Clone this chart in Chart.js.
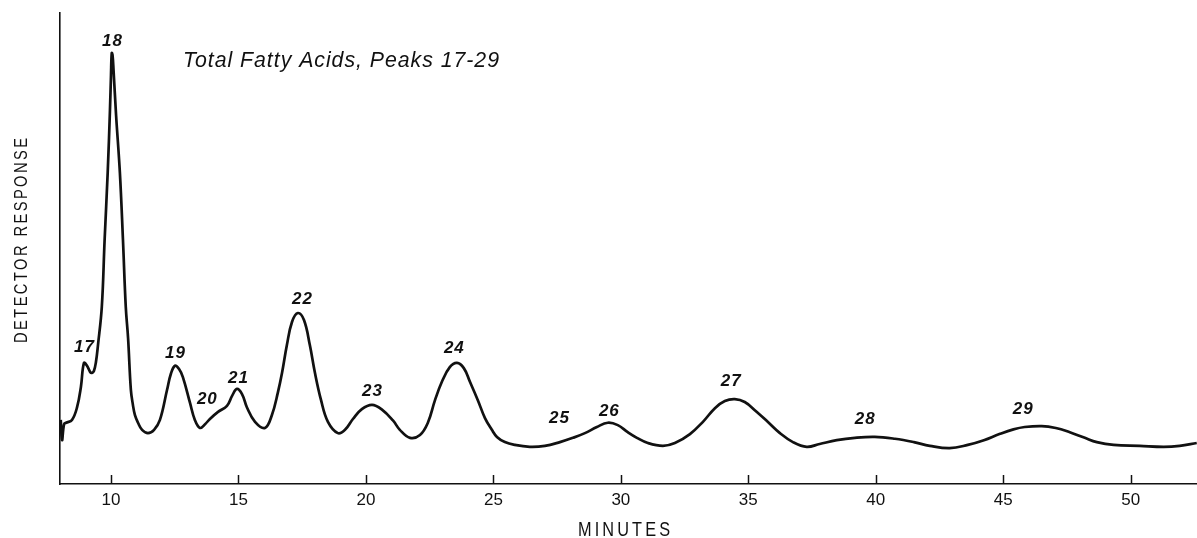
<!DOCTYPE html>
<html>
<head>
<meta charset="utf-8">
<title>Total Fatty Acids, Peaks 17-29</title>
<script src="https://cdn.jsdelivr.net/npm/chart.js@4.4.1/dist/chart.umd.min.js"></script>
<style>
  html, body { margin: 0; padding: 0; background: #ffffff; }
  #wrap { width: 1197px; height: 538px; position: relative; }
</style>
</head>
<body>
<div id="wrap"><canvas id="chromatogram"></canvas></div>
<script>
// Retention time (minutes) of each traced point of the detector trace
const minutes = [
  8.03, 8.08, 8.16, 8.24, 8.47, 8.67, 8.82, 8.94, 9.06, 9.18, 9.25, 9.33, 9.41, 9.49,
  9.64, 9.75, 9.87, 9.96, 10.00, 10.03, 10.06, 10.10, 10.20, 10.35, 10.47, 10.58, 10.67,
  10.78, 10.86, 10.94, 11.06, 11.22, 11.45, 11.69, 11.92, 12.20, 12.35, 12.51, 12.67,
  12.82, 13.10, 13.29, 13.49, 13.69, 13.88, 14.20, 14.55, 14.75, 14.94, 15.14, 15.33,
  15.65, 16.04, 16.31, 16.55, 16.71, 16.90, 17.10, 17.33, 17.57, 17.80, 18.00, 18.24,
  18.51, 18.90, 19.18, 19.49, 19.84, 20.24, 20.63, 21.06, 21.33, 21.73, 22.12, 22.43,
  22.71, 22.98, 23.29, 23.57, 23.84, 24.08, 24.39, 24.67, 24.94, 25.14, 25.45, 25.84,
  26.43, 27.02, 27.61, 28.12, 28.59, 29.06, 29.49, 29.88, 30.27, 30.63, 31.06, 31.65,
  32.12, 32.71, 33.22, 33.69, 34.08, 34.47, 34.86, 35.29, 35.76, 36.24, 36.75, 37.29,
  37.80, 38.47, 39.18, 39.96, 40.75, 41.49, 42.12, 42.90, 43.61, 44.24, 44.85, 45.40,
  45.84, 46.51, 47.06, 47.61, 48.20, 48.67, 49.33, 50.35, 51.29, 51.92, 52.59
];

// Detector response (relative units, full scale = 100)
const response = [
  13.6, 9.3, 12.7, 13.0, 13.6, 16.3, 20.6, 25.7, 25.1, 23.8, 23.6, 24.0, 25.9, 29.5,
  37.6, 51.8, 66.0, 79.4, 86.8, 91.5, 91.1, 87.9, 78.3, 66.0, 51.8, 37.6, 31.0,
  20.0, 16.8, 14.6, 13.0, 11.5, 10.8, 11.5, 13.6, 20.0, 23.4, 25.1, 24.4,
  22.7, 17.2, 13.6, 11.9, 12.7, 13.8, 15.3, 16.6, 18.7, 20.2, 19.1, 16.3,
  13.2, 11.9, 14.6, 19.5, 23.6, 29.5, 34.4, 36.3, 34.8, 29.5, 23.6, 17.8,
  13.2, 10.8, 11.5, 13.8, 15.9, 16.8, 15.8, 13.5, 11.5, 9.8, 10.4, 13.0,
  17.8, 21.7, 24.8, 25.7, 24.6, 21.7, 17.8, 14.0, 11.5, 10.0, 8.9, 8.3,
  7.9, 8.1, 8.9, 9.8, 10.8, 12.1, 13.0, 12.5, 11.0, 9.8, 8.7, 8.1,
  8.7, 10.6, 13.2, 16.1, 17.6, 18.0, 17.4, 15.5, 13.2, 10.8, 8.9, 7.9,
  8.5, 9.3, 9.8, 10.0, 9.6, 8.9, 8.1, 7.6, 8.3, 9.3, 10.6, 11.6,
  12.1, 12.3, 11.9, 11.0, 9.8, 8.9, 8.3, 8.1, 7.9, 8.1, 8.7
];

// Minute marks on the time axis
const xTicks = [10, 15, 20, 25, 30, 35, 40, 45, 50];

// Peak numbers and where each number sits (minutes, response)
const peakNames = ['17', '18', '19', '20', '21', '22', '23', '24', '25', '26', '27', '28', '29'];
const peakLabelMinutes = [8.94, 10.04, 12.51, 13.76, 14.98, 17.49, 20.24, 23.45, 27.57, 29.53, 34.31, 39.57, 45.76];
const peakLabelResponse = [29.5, 94.3, 28.2, 18.3, 22.9, 39.5, 20.0, 29.1, 14.4, 15.9, 22.1, 14.2, 16.3];

const chartTitle = 'Total Fatty Acids, Peaks 17-29';
const xTitle = 'MINUTES';
const yTitle = 'DETECTOR RESPONSE';

const INK = '#111111';
const SANS = "'Liberation Sans', 'DejaVu Sans', sans-serif";
const NARROW = "'Liberation Sans Narrow', 'Liberation Sans', sans-serif";

// Draw letter-spaced text, condensed to a given width, centred on cx
function drawSpaced(ctx, text, cx, baseY, font, spacing, targetWidth, angle) {
  ctx.save();
  ctx.font = font;
  ctx.letterSpacing = spacing + 'px';
  const w = ctx.measureText(text).width - spacing;
  const sx = targetWidth ? targetWidth / w : 1;
  ctx.translate(cx, baseY);
  if (angle) ctx.rotate(angle);
  ctx.scale(sx, 1);
  ctx.fillStyle = INK;
  ctx.textAlign = 'left';
  ctx.textBaseline = 'alphabetic';
  ctx.fillText(text, -w / 2, 0);
  ctx.restore();
}

const annotations = {
  id: 'annotations',
  afterDatasetsDraw(chart) {
    const { ctx, chartArea, scales: { x, y } } = chart;

    // short inward tick marks on the time axis
    ctx.save();
    ctx.strokeStyle = INK;
    ctx.lineWidth = 1.5;
    xTicks.forEach(v => {
      const px = Math.round(x.getPixelForValue(v)) + 0.5;
      ctx.beginPath();
      ctx.moveTo(px, chartArea.bottom);
      ctx.lineTo(px, chartArea.bottom - 9);
      ctx.stroke();
    });
    ctx.restore();

    // peak numbers
    peakNames.forEach((name, i) => {
      const px = x.getPixelForValue(peakLabelMinutes[i]);
      const py = y.getPixelForValue(peakLabelResponse[i]);
      drawSpaced(ctx, name, px, py + 6.5, 'italic bold 17px ' + SANS, 1, 0, 0);
    });

    // heading inside the plot
    drawSpaced(ctx, chartTitle, 341, 67, 'italic 22px ' + SANS, 1, 316, 0);

    // axis titles
    drawSpaced(ctx, xTitle, 624, 536, '21px ' + SANS, 4, 92, 0);
    drawSpaced(ctx, yTitle, 27, 240.5, '18px ' + SANS, 3, 205, -Math.PI / 2);
  }
};

new Chart(document.getElementById('chromatogram'), {
  type: 'line',
  data: {
    datasets: [{
      data: minutes.map((m, i) => ({ x: m, y: response[i] })),
      borderColor: INK,
      borderWidth: 2.7,
      pointRadius: 0,
      fill: false,
      tension: 0.4
    }]
  },
  options: {
    responsive: true,
    maintainAspectRatio: false,
    animation: false,
    devicePixelRatio: 1,
    layout: { padding: { top: 13, left: 0, right: 0, bottom: 0 } },
    plugins: {
      legend: { display: false },
      tooltip: { enabled: false },
      title: { display: false }
    },
    scales: {
      x: {
        type: 'linear',
        min: 8,
        max: 52.6,
        afterBuildTicks: s => { s.ticks = xTicks.map(v => ({ value: v })); },
        afterFit: s => { s.height = 54; },
        grid: { display: false, drawTicks: false, drawOnChartArea: false },
        border: { display: true, color: INK, width: 1.6 },
        ticks: {
          color: INK,
          padding: 6,
          maxRotation: 0,
          autoSkip: false,
          font: { family: NARROW, size: 17 },
          callback: v => String(v)
        }
      },
      y: {
        type: 'linear',
        min: 0,
        max: 100,
        afterFit: s => { s.width = 60; },
        grid: { display: false, drawTicks: false, drawOnChartArea: false },
        border: { display: true, color: INK, width: 1.6 },
        ticks: { display: false }
      }
    }
  },
  plugins: [annotations]
});
</script>
</body>
</html>
